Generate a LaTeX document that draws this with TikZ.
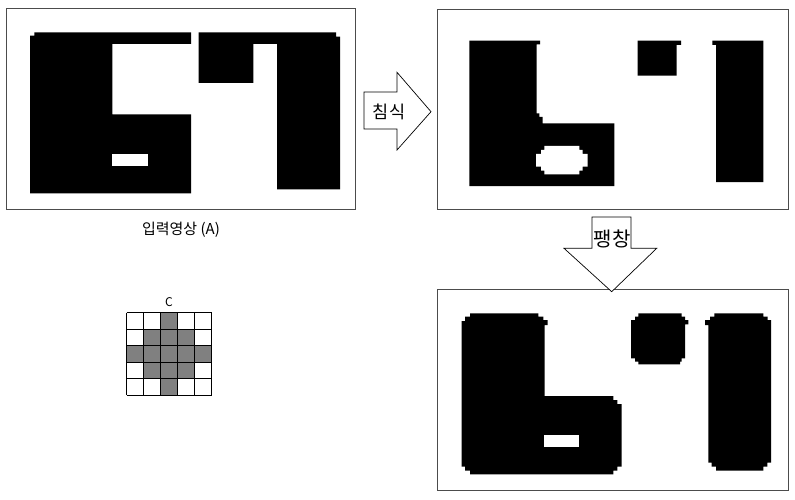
\documentclass[tikz,border=0pt]{standalone}
\usepackage{fontspec}
\setmainfont{Noto Sans CJK KR}
\begin{document}
\begin{tikzpicture}[x=1pt,y=-1pt,
  frame/.style={draw=black!70, line width=0.8pt, fill=white},
  blob/.style={fill=black},
  hole/.style={fill=white},
  arrowbox/.style={draw=black, line width=0.7pt, fill=white, line join=miter},
  cell/.style={draw=black, line width=0.8pt},
  graycell/.style={cell, fill=black!50},
  lbl/.style={inner sep=0pt, font=\fontsize{15pt}{17pt}\selectfont}]
\useasboundingbox (0,0) rectangle (795,500);
\fill[white] (0,0) rectangle (795,500);
% ---------- frame 1 : input image ----------
\draw[frame] (6,8) rectangle (355,209);
\fill[blob] (30,35.7) -- (34.3,35.7) -- (34.3,32.3) -- (191,32.3) -- (191,44) -- (112.3,44)
  -- (112.3,114.3) -- (191,114.3) -- (191,193.3) -- (30,193.3) -- cycle;
\fill[hole] (112.3,153.7) rectangle (147.7,165.7);
\fill[blob] (198.7,32.3) -- (336,32.3) -- (336,36.7) -- (340,36.7) -- (340,189.3) -- (277,189.3)
  -- (277,44) -- (253.3,44) -- (253.3,83) -- (198.7,83) -- cycle;
\node[lbl] (labA) at (181,230) {입력영상 (A)};
% ---------- frame 2 : erosion ----------
\draw[frame] (437,9) rectangle (788,209);
\fill[blob] (469.3,40.7) -- (540,40.7) -- (540,44.3) -- (536.7,44.3) -- (536.7,113.3) -- (539.3,113.3)
  -- (539.3,117) -- (542.7,117) -- (542.7,123.3) -- (614.3,123.3) -- (614.3,186) -- (469.3,186) -- cycle;
\fill[hole] (544.3,146) -- (579.3,146) -- (579.3,150) -- (582.7,150) -- (582.7,154) -- (587.7,154)
  -- (587.7,166.7) -- (582.7,166.7) -- (582.7,170.7) -- (579.3,170.7) -- (579.3,174.3) -- (544.3,174.3)
  -- (544.3,170.7) -- (541,170.7) -- (541,166.7) -- (536,166.7) -- (536,154) -- (541,154) -- (541,150)
  -- (544.3,150) -- cycle;
\fill[blob] (637.7,40.7) -- (681,40.7) -- (681,45) -- (676.7,45) -- (676.7,75.7) -- (637.7,75.7) -- cycle;
\fill[blob] (712.3,40.7) -- (763.3,40.7) -- (763.3,182) -- (716,182) -- (716,45) -- (712.3,45) -- cycle;
% ---------- frame 3 : dilation ----------
\draw[frame] (437,289) rectangle (788,490);
\fill[blob] (470,313.3) -- (538.3,313.3) -- (538.3,316.7) -- (543.3,316.7) -- (543.3,320) -- (547.7,320)
  -- (547.7,325) -- (544.5,325) -- (544.5,396) -- (613.3,396) -- (613.3,400) -- (617.3,400) -- (617.3,404)
  -- (621.7,404) -- (621.7,466.7) -- (617.3,466.7) -- (617.3,470.7) -- (613.3,470.7) -- (613.3,474.3)
  -- (470,474.3) -- (470,470.7) -- (465,470.7) -- (465,466.7) -- (461.7,466.7) -- (461.7,321) -- (465,321)
  -- (465,316.7) -- (470,316.7) -- cycle;
\fill[hole] (544,435) rectangle (579.3,447.3);
\fill[blob] (638.3,313.3) -- (681.7,313.3) -- (681.7,316.7) -- (685,316.7) -- (685,320) -- (688.3,320)
  -- (688.3,324.3) -- (685,324.3) -- (685,358.3) -- (681.7,358.3) -- (681.7,361.7) -- (680,361.7)
  -- (680,364.3) -- (638.3,364.3) -- (638.3,361.7) -- (635,361.7) -- (635,358.3) -- (631,358.3)
  -- (631,320) -- (635,320) -- (635,316.7) -- (638.3,316.7) -- cycle;
\fill[blob] (714.3,313.3) -- (763.3,313.3) -- (763.3,316.7) -- (767.7,316.7) -- (767.7,320) -- (771.2,320)
  -- (771.2,462.7) -- (767.3,462.7) -- (767.3,466.7) -- (763.3,466.7) -- (763.3,470.7) -- (716,470.7)
  -- (716,466.7) -- (711.7,466.7) -- (711.7,462.7) -- (708.3,462.7) -- (708.3,325) -- (705,325)
  -- (705,320) -- (710,320) -- (710,316.7) -- (714.3,316.7) -- cycle;
% ---------- arrows ----------
\draw[arrowbox] (364,92) -- (397,92) -- (397,72.3) -- (431,111.7) -- (397,150) -- (397,129) -- (364,129) -- cycle;
\node[lbl, font=\fontsize{17.5pt}{19pt}\selectfont] (eros) at (389,111.5) {침식};
\draw[arrowbox] (592,217) -- (631,217) -- (631,248.3) -- (656.7,248.3) -- (611.7,291.7) -- (564,248.3) -- (592,248.3) -- cycle;
\node[lbl, font=\fontsize{20pt}{22pt}\selectfont] (dil) at (612,239) {팽창};
% ---------- structuring element C ----------
\node[lbl, font=\fontsize{12pt}{14pt}\selectfont] (labC) at (169,302) {C};
\foreach \r/\c in {0/2, 1/1,1/2,1/3, 2/0,2/1,2/2,2/3,2/4, 3/1,3/2,3/3, 4/2}{
  \fill[black!50] ({126.7+17*\c},{312.7+16.46*\r}) rectangle ++(17,16.46);
}
\foreach \i in {0,...,5}{
  \draw[cell] ({126.7+17*\i},312.7) -- ({126.7+17*\i},395);
  \draw[cell] (126.7,{312.7+16.46*\i}) -- (211.7,{312.7+16.46*\i});
}
\end{tikzpicture}
\end{document}
